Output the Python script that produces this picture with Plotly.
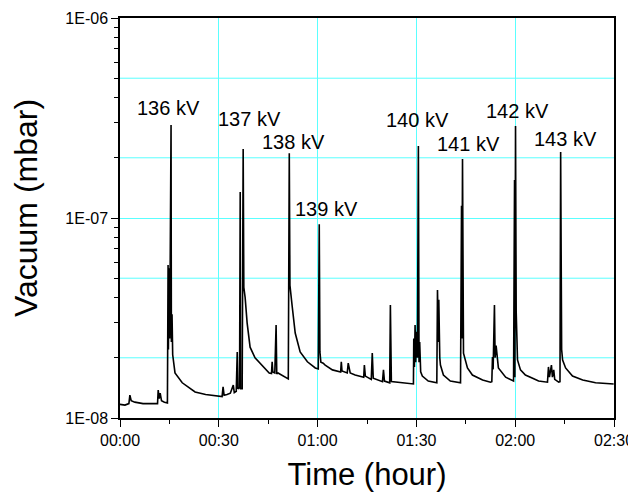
import math

import plotly.graph_objects as go

# elapsed time in minutes and chamber pressure in mbar
time_min = [
    0.0, 1.5, 2.7, 3.0, 3.4, 4.5, 7.0, 11.4, 11.6, 11.9, 12.2, 12.6, 13.5, 14.4,
    14.6, 14.7, 14.9, 15.1, 15.5, 15.6, 15.8, 16.0, 16.7, 18.9, 22.8, 26.0, 28.9,
    31.0, 31.3, 31.6, 32.5, 33.5, 34.4, 34.7, 35.3, 35.6, 35.8, 36.3, 36.5, 36.6,
    37.1, 37.4, 37.6, 38.0, 38.6, 39.5, 41.0, 43.5, 45.3, 46.0, 46.2, 46.4, 47.0,
    47.4, 47.6, 48.0, 49.5, 51.1, 51.4, 51.6, 52.3, 53.2, 54.7, 56.9, 59.3, 60.2,
    60.5, 60.7, 61.0, 61.7, 62.3, 64.5, 67.0, 67.2, 67.4, 69.0, 69.3, 69.6, 69.9,
    71.4, 74.0, 74.2, 74.5, 76.3, 76.6, 76.9, 79.7, 80.0, 80.3, 81.9, 82.1, 82.4,
    85.7, 88.9, 89.1, 89.2, 89.4, 89.6, 89.8, 90.0, 90.3, 90.6, 90.8, 91.0, 91.3,
    91.8, 93.6, 96.2, 96.4, 96.5, 96.6, 96.7, 96.8, 96.9, 97.0, 97.1, 97.3, 98.2,
    100.3, 103.4, 103.7, 103.8, 104.0, 104.3, 105.5, 107.0, 110.1, 112.5, 112.9,
    113.1, 113.3, 113.7, 113.9, 114.2, 114.9, 117.1, 119.5, 119.8, 119.9, 120.1,
    120.3, 120.7, 121.6, 123.1, 125.3, 127.1, 129.8, 130.1, 130.4, 131.0, 131.3,
    131.7, 132.0, 133.2, 133.6, 133.8, 134.1, 134.4, 135.3, 137.4, 140.5, 144.4,
    149.9,
]
pressure_mbar = [
    1.17e-8, 1.16e-8, 1.18e-8, 1.30e-8, 1.22e-8, 1.20e-8, 1.18e-8, 1.18e-8,
    1.38e-8, 1.25e-8, 1.33e-8, 1.22e-8, 1.20e-8, 1.19e-8,
    5.82e-8, 2.2e-8, 5.6e-8, 2.5e-8, 2.92e-7, 2.4e-8, 3.3e-8, 2.07e-8, 1.68e-8,
    1.50e-8, 1.35e-8, 1.31e-8, 1.29e-8,
    1.28e-8, 1.43e-8, 1.30e-8, 1.31e-8, 1.33e-8, 1.46e-8, 1.34e-8, 1.36e-8,
    2.14e-8, 1.40e-8, 1.42e-8, 1.35e-7, 1.40e-8,
    1.40e-8, 2.21e-7, 4.5e-8, 4.0e-8, 2.99e-8, 2.26e-8, 2.0e-8, 1.80e-8, 1.68e-8,
    1.67e-8, 1.91e-8, 1.70e-8, 1.68e-8,
    2.92e-8, 1.66e-8, 1.68e-8, 1.62e-8, 1.57e-8, 2.11e-7, 4.6e-8, 3.6e-8,
    2.66e-8, 2.14e-8, 1.91e-8, 1.78e-8, 1.76e-8,
    9.3e-8, 2.14e-8, 1.90e-8, 1.88e-8, 1.84e-8, 1.74e-8, 1.70e-8, 1.91e-8,
    1.72e-8, 1.68e-8, 1.88e-8, 1.72e-8, 1.68e-8,
    1.64e-8, 1.60e-8, 1.84e-8, 1.62e-8, 1.56e-8, 2.11e-8, 1.58e-8, 1.52e-8,
    1.74e-8, 1.53e-8, 1.50e-8, 3.67e-8, 1.52e-8,
    1.50e-8, 1.48e-8, 1.48e-8, 2.5e-8, 1.8e-8, 2.92e-8, 1.9e-8, 2.7e-8, 2.0e-8,
    2.29e-7, 1.9e-8, 2.4e-8, 1.70e-8,
    1.62e-8, 1.53e-8, 1.50e-8, 4.37e-8, 2.6e-8, 4.1e-8, 2.4e-8, 3.9e-8, 2.2e-8,
    3.2e-8, 2.0e-8, 1.84e-8, 1.64e-8,
    1.53e-8, 1.50e-8, 1.15e-7, 2.5e-8, 1.97e-7, 2.11e-8, 1.78e-8, 1.64e-8,
    1.55e-8, 1.51e-8, 1.52e-8,
    2.02e-8, 1.75e-8, 3.67e-8, 2.0e-8, 2.3e-8, 1.78e-8, 1.60e-8, 1.53e-8,
    1.55e-7, 1.6e-8, 2.88e-7,
    3.4e-8, 1.95e-8, 1.74e-8, 1.64e-8, 1.58e-8, 1.53e-8, 1.51e-8, 1.80e-8,
    1.60e-8, 1.84e-8, 1.60e-8,
    1.74e-8, 1.56e-8, 1.51e-8, 1.52e-8, 2.14e-7, 2.2e-8, 1.95e-8, 1.78e-8,
    1.62e-8, 1.55e-8, 1.50e-8,
    1.48e-8,
]

# high-voltage steps and the time of the discharge peak they belong to
voltage_labels = ["136 kV", "137 kV", "138 kV", "139 kV",
                  "140 kV", "141 kV", "142 kV", "143 kV"]
peak_time_min = [15.5, 37.4, 51.4, 60.5, 90.6, 104.0, 120.1, 133.8]

x_tick_vals = [0, 30, 60, 90, 120, 150]
x_tick_text = ["00:00", "00:30", "01:00", "01:30", "02:00", "02:30"]
x_minor_vals = [15, 45, 75, 105, 135]
y_tick_vals = [1e-8, 1e-7, 1e-6]
y_tick_text = ["1E-08", "1E-07", "1E-06"]
y_minor_vals = [m * 10.0 ** e for e in (-8, -7) for m in range(2, 10)]
y_grid_extra = [2e-8, 5e-8, 2e-7, 5e-7]

FONT = "Liberation Sans, Arial, sans-serif"
GRID = "rgb(90,255,255)"

fig = go.Figure()
fig.add_trace(
    go.Scatter(
        x=time_min,
        y=pressure_mbar,
        mode="lines",
        line=dict(color="black", width=1.6),
        hoverinfo="skip",
        showlegend=False,
    )
)

# extra horizontal grid lines at 2 and 5 of each decade
for val in y_grid_extra:
    fig.add_shape(
        type="line", xref="paper", x0=0, x1=1, yref="y", y0=val, y1=val,
        line=dict(color=GRID, width=1), layer="below",
    )

# label offsets (px) from each peak tip
label_shift = [(-3, 17), (6, 30), (4, 11), (7, 15), (-1, 26), (6, 15), (2, 15), (5, 13)]
for text, t, (dx, dy) in zip(voltage_labels, peak_time_min, label_shift):
    peak = pressure_mbar[time_min.index(t)]
    fig.add_annotation(
        x=t, y=math.log10(peak), text=text, showarrow=False,
        xanchor="center", yanchor="middle", xshift=dx, yshift=dy,
        font=dict(family=FONT, size=20, color="black"),
    )

# y title as an annotation so it can sit a little above the middle
fig.add_annotation(
    xref="paper", yref="paper", x=0, y=0.5, xshift=-94, yshift=10,
    text="Vacuum (mbar)", textangle=-90, showarrow=False,
    xanchor="center", yanchor="middle",
    font=dict(family=FONT, size=32, color="black"),
)

# the page body adds an 8px margin, so the figure is 8px smaller than the window
fig.update_layout(
    width=628,
    height=485,
    margin=dict(l=112, r=22, t=10, b=75),
    paper_bgcolor="white",
    plot_bgcolor="white",
    font=dict(family=FONT, color="black"),
    showlegend=False,
)
fig.update_xaxes(
    range=[0, 150],
    automargin=False,
    tickvals=x_tick_vals,
    ticktext=x_tick_text,
    tickfont=dict(size=16),
    ticks="outside",
    ticklen=7,
    tickwidth=1,
    tickcolor="black",
    minor=dict(tickvals=x_minor_vals, ticks="outside", ticklen=4, tickcolor="black",
               showgrid=False, gridcolor=GRID),
    showgrid=True,
    gridcolor=GRID,
    gridwidth=1,
    showline=True,
    linecolor="black",
    linewidth=1.5,
    mirror=True,
    zeroline=False,
    title=dict(text="Time (hour)", font=dict(size=31), standoff=15),
)
fig.update_yaxes(
    type="log",
    range=[-8, -6],
    automargin=False,
    tickvals=y_tick_vals,
    ticktext=y_tick_text,
    tickfont=dict(size=16),
    ticks="outside",
    ticklen=7,
    tickwidth=1,
    tickcolor="black",
    minor=dict(tickvals=y_minor_vals, ticks="outside", ticklen=4, tickcolor="black",
               showgrid=False, gridcolor=GRID),
    showgrid=True,
    gridcolor=GRID,
    gridwidth=1,
    showline=True,
    linecolor="black",
    linewidth=1.5,
    mirror=True,
    zeroline=False,
)

fig.write_html("out.html")
